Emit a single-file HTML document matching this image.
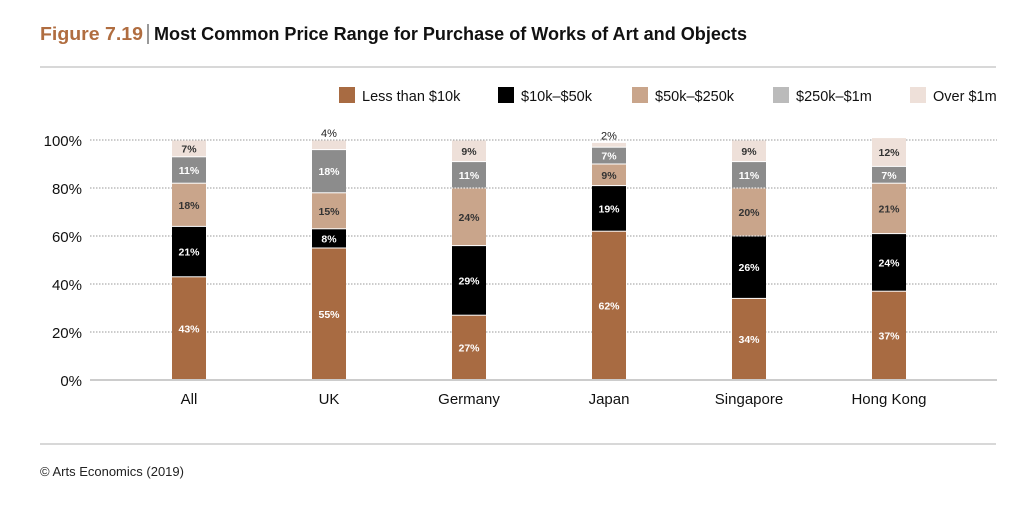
<!DOCTYPE html>
<html><head><meta charset="utf-8"><style>
body{margin:0;background:#fff;}
svg{display:block;font-family:"Liberation Sans",sans-serif;}
</style></head><body>
<svg id="chart" width="1034" height="508" viewBox="0 0 1034 508">
<text x="40" y="40" font-size="18" font-weight="bold" fill="#b06d40" textLength="103" lengthAdjust="spacingAndGlyphs">Figure 7.19</text>
<line x1="148" y1="24" x2="148" y2="44" stroke="#333" stroke-width="1"/>
<text x="154" y="40" font-size="18" font-weight="bold" fill="#111" textLength="593" lengthAdjust="spacingAndGlyphs">Most Common Price Range for Purchase of Works of Art and Objects</text>
<line x1="40" y1="67" x2="996" y2="67" stroke="#ccc" stroke-width="1.5"/>
<g id="legend"></g>
<g id="grid"></g>
<g id="bars"></g>
<line x1="90" y1="380" x2="997" y2="380" stroke="#ccc" stroke-width="2"/>
<line x1="40" y1="444" x2="996" y2="444" stroke="#ccc" stroke-width="1.5"/>
<text x="40" y="476" font-size="13" fill="#222">© Arts Economics (2019)</text>
</svg>
<script>
const categories = ["All","UK","Germany","Japan","Singapore","Hong Kong"];
const seriesNames = ["Less than $10k","$10k–$50k","$50k–$250k","$250k–$1m","Over $1m"];
const lessThan10k = [43,55,27,62,34,37];
const from10kTo50k = [21,8,29,19,26,24];
const from50kTo250k = [18,15,24,9,20,21];
const from250kTo1m = [11,18,11,7,11,7];
const over1m = [7,4,9,2,9,12];
const yTicks = [0,20,40,60,80,100];

const series=[lessThan10k,from10kTo50k,from50kTo250k,from250kTo1m,over1m];
const colors=["#a86b42","#000000","#c9a58b","#8c8c8c","#eee0d9"];
const legendColors=["#a86b42","#000000","#c9a58b","#bbbbbb","#eee0d9"];
const textColors=["#fff","#fff","#333","#fff","#333"];
const NS="http://www.w3.org/2000/svg";
const y0=380,y100=140;
const y=v=>y0-(y100-y0)*-v/100;
const x=i=>189+i*140;
const bw=34;
function mk(tag,attrs,parent){const e=document.createElementNS(NS,tag);for(const k in attrs)e.setAttribute(k,attrs[k]);parent.appendChild(e);return e;}
const grid=document.getElementById('grid');
yTicks.forEach(t=>{
  if(t>0){const l=mk('line',{x1:90,x2:997,y1:y(t),y2:y(t),stroke:'#999','stroke-width':1,'stroke-dasharray':'1.5,1.5'},grid);
  
  }
  const tx=mk('text',{x:82,y:y(t)+6,'font-size':15,'text-anchor':'end',fill:'#111'},grid);
  tx.textContent=t+'%';
  
  
});
const bars=document.getElementById('bars');
categories.forEach((c,i)=>{
  let cum=0;
  series.forEach((s,j)=>{
    const v=s[i];const yt=y(cum+v),yb=y(cum);
    const r=mk('rect',{x:x(i)-bw/2,y:yt+0.5,width:bw,height:Math.max(yb-yt-1,0.5),fill:colors[j]},bars);
    
    
    const small=v<5;
    const t=mk('text',{x:x(i),y:small?yt-3:(yt+yb)/2+4,'font-size':small?11:10.5,'text-anchor':'middle',fill:small?'#222':textColors[j],'font-weight':small?'normal':'bold'},bars);
    t.textContent=v+'%';
    
    
    cum+=v;
  });
  const lab=mk('text',{x:x(i),y:404,'font-size':15,'text-anchor':'middle',fill:'#111'},bars);
  lab.textContent=c;
  
  
});
const lg=document.getElementById('legend');
const lx=[339,498,632,773,910];
seriesNames.forEach((n,j)=>{
  const r=mk('rect',{x:lx[j],y:87,width:16,height:16,fill:legendColors[j]},lg);
  
  
  const t=mk('text',{x:lx[j]+23,y:101,'font-size':14.5,fill:'#111'},lg);
  t.textContent=n;
  
  
});
</script>
</body></html>
